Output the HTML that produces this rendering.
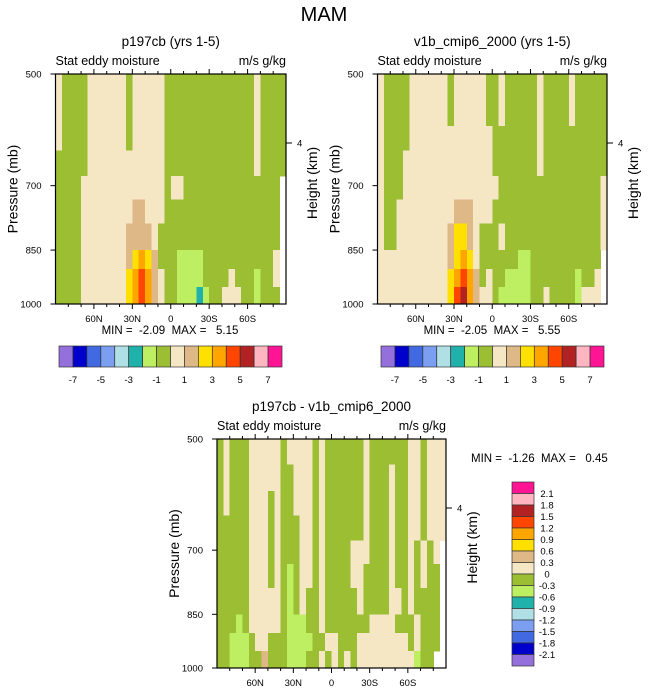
<!DOCTYPE html>
<html><head><meta charset="utf-8">
<style>
html,body{margin:0;padding:0;background:#fff;}
svg{display:block;font-family:"Liberation Sans",Arial,sans-serif;}
</style></head>
<body>
<svg id="chart" width="648" height="693" viewBox="0 0 648 693" xmlns="http://www.w3.org/2000/svg">
<text x="324" y="21" font-size="20" text-anchor="middle">MAM</text>
</svg>
<script>
// ---------- data ----------
const latCenters = [87.5,82.5,77.5,72.5,67.5,62.5,57.5,52.5,47.5,42.5,37.5,32.5,27.5,22.5,17.5,12.5,7.5,2.5,-2.5,-7.5,-12.5,-17.5,-22.5,-27.5,-32.5,-37.5,-42.5,-47.5,-52.5,-57.5,-62.5,-67.5,-72.5,-77.5,-82.5,-87.5];
const pressureEdges = [500,540,585,630,680,730,785,850,900,950,1000];
const xTickLats = [60,30,0,-30,-60];
const xTickLabels = ["60N","30N","0","30S","60S"];
const yTickPressures = [500,700,850,1000];
const yTickLabels = ["500","700","850","1000"];
const topLevels = [-7,-6,-5,-4,-3,-2,-1,0,1,2,3,4,5,6,7];
const topLevelLabels = ["-7","-5","-3","-1","1","3","5","7"];
const diffLevels = [-2.1,-1.8,-1.5,-1.2,-0.9,-0.6,-0.3,0,0.3,0.6,0.9,1.2,1.5,1.8,2.1];
const diffLevelLabels = ["-2.1","-1.8","-1.5","-1.2","-0.9","-0.6","-0.3","0","0.3","0.6","0.9","1.2","1.5","1.8","2.1"];
const colors = ["#9370DB","#0000CD","#4169E1","#7B9EF0","#B0E0E6","#20B2AA","#BEEE62","#9BBE33","#F5E6C4","#DEB887","#FFE000","#FFA500","#FF4500","#B22222","#FFB6C1","#FF1493"];

// panel 1: p197cb (rows top 500mb -> bottom 1000mb)
const p197cb = [
[.5,-.5,-.5,-.5,-.5,.5,.5,.5,.5,.5,.5,-.5,.5,.5,.5,.5,.5,-.5,-.5,-.5,-.5,-.5,-.5,-.5,-.5,-.5,-.5,-.5,-.5,-.5,-.5,.5,-.5,-.5,-.5,-.5],
[.5,-.5,-.5,-.5,-.5,.5,.5,.5,.5,.5,.5,-.5,.5,.5,.5,.5,.5,-.5,-.5,-.5,-.5,-.5,-.5,-.5,-.5,-.5,-.5,-.5,-.5,-.5,-.5,.5,-.5,-.5,-.5,-.5],
[.5,-.5,-.5,-.5,-.5,.5,.5,.5,.5,.5,.5,-.5,.5,.5,.5,.5,.5,-.5,-.5,-.5,-.5,-.5,-.5,-.5,-.5,-.5,-.5,-.5,-.5,-.5,-.5,.5,-.5,-.5,-.5,-.5],
[-.5,-.5,-.5,-.5,-.5,.5,.5,.5,.5,.5,.5,.5,.5,.5,.5,.5,.5,-.5,-.5,-.5,-.5,-.5,-.5,-.5,-.5,-.5,-.5,-.5,-.5,-.5,-.5,.5,-.5,-.5,-.5,-.5],
[-.5,-.5,-.5,-.5,.5,.5,.5,.5,.5,.5,.5,.5,.5,.5,.5,.5,.5,-.5,.5,.5,-.5,-.5,-.5,-.5,-.5,-.5,-.5,-.5,-.5,-.5,-.5,-.5,-.5,-.5,-.5,null],
[-.5,-.5,-.5,-.5,.5,.5,.5,.5,.5,.5,.5,.5,1.5,1.5,.5,.5,.5,-.5,-.5,-.5,-.5,-.5,-.5,-.5,-.5,-.5,-.5,-.5,-.5,-.5,-.5,-.5,-.5,-.5,-.5,null],
[-.5,-.5,-.5,-.5,.5,.5,.5,.5,.5,.5,.5,1.5,1.5,1.5,1.5,.5,-.5,-.5,-.5,-.5,-.5,-.5,-.5,-.5,-.5,-.5,-.5,-.5,-.5,-.5,-.5,-.5,-.5,-.5,-.5,null],
[-.5,-.5,-.5,-.5,.5,.5,.5,.5,.5,.5,.5,1.5,2.5,3.5,2.5,1.5,-.5,-.5,-.5,-1.5,-1.5,-1.5,-1.5,-.5,-.5,-.5,-.5,-.5,-.5,-.5,-.5,-.5,-.5,-.5,.5,null],
[-.5,-.5,-.5,-.5,.5,.5,.5,.5,.5,.5,.5,2.5,3.5,4.5,3.5,1.5,.5,-.5,-.5,-1.5,-1.5,-1.5,-1.5,-.5,-.5,-.5,-.5,.5,-.5,-.5,-.5,-1.5,-.5,-.5,.5,null],
[-.5,-.5,-.5,-.5,.5,.5,.5,.5,.5,.5,.5,2.5,3.5,4.5,3.5,1.5,.5,-.5,-.5,-1.5,-1.5,-1.5,-2.05,-1.5,-.5,-.5,.5,.5,.5,-.5,-.5,-1.5,-.5,-.5,-.5,null]
];
// panel 2: v1b_cmip6_2000
const v1bCmip6 = [
[.5,-.5,-.5,-.5,-.5,.5,.5,.5,.5,.5,.5,-.5,.5,.5,.5,.5,.5,-.5,-.5,.5,-.5,-.5,-.5,-.5,-.5,.5,-.5,-.5,-.5,-.5,.5,-.5,-.5,-.5,-.5,-.5],
[.5,-.5,-.5,-.5,-.5,.5,.5,.5,.5,.5,.5,-.5,.5,.5,.5,.5,.5,-.5,-.5,.5,-.5,-.5,-.5,-.5,-.5,.5,-.5,-.5,-.5,-.5,.5,-.5,-.5,-.5,-.5,-.5],
[.5,-.5,-.5,-.5,-.5,.5,.5,.5,.5,.5,.5,.5,.5,.5,.5,.5,.5,.5,-.5,-.5,-.5,-.5,-.5,-.5,-.5,.5,-.5,-.5,-.5,-.5,-.5,-.5,-.5,-.5,-.5,-.5],
[.5,-.5,-.5,-.5,.5,.5,.5,.5,.5,.5,.5,.5,.5,.5,.5,.5,.5,.5,-.5,-.5,-.5,-.5,-.5,-.5,-.5,.5,-.5,-.5,-.5,-.5,-.5,-.5,-.5,-.5,-.5,-.5],
[.5,-.5,-.5,-.5,.5,.5,.5,.5,.5,.5,.5,.5,.5,.5,.5,.5,.5,.5,.5,-.5,-.5,-.5,-.5,-.5,-.5,-.5,-.5,-.5,-.5,-.5,-.5,-.5,-.5,-.5,-.5,.5],
[.5,-.5,-.5,.5,.5,.5,.5,.5,.5,.5,.5,.5,1.5,1.5,1.5,.5,.5,.5,-.5,-.5,-.5,-.5,-.5,-.5,-.5,-.5,-.5,-.5,-.5,-.5,-.5,-.5,-.5,-.5,-.5,.5],
[.5,-.5,-.5,.5,.5,.5,.5,.5,.5,.5,.5,1.5,2.5,2.5,1.5,.5,-.5,-.5,-.5,.5,-.5,-.5,-.5,-.5,-.5,-.5,-.5,-.5,-.5,-.5,-.5,-.5,-.5,-.5,-.5,.5],
[.5,.5,.5,.5,.5,.5,.5,.5,.5,.5,.5,1.5,2.5,3.5,2.5,.5,-.5,-.5,-.5,-.5,-.5,-.5,-1.5,-1.5,-.5,-.5,-.5,-.5,-.5,-.5,-.5,-.5,-.5,-.5,-.5,null],
[.5,.5,.5,.5,.5,.5,.5,.5,.5,.5,.5,2.5,3.5,4.5,3.5,1.5,-.5,.5,-.5,-.5,-1.5,-1.5,-1.5,-1.5,-.5,-.5,-.5,-.5,-.5,-.5,-.5,-1.5,-.5,-.5,.5,null],
[.5,.5,.5,.5,.5,.5,.5,.5,.5,.5,.5,2.5,4.5,5.3,3.5,1.5,.5,.5,-.5,-1.5,-1.5,-1.5,-1.5,-1.5,-.5,-.5,.5,-.5,-.5,-.5,-.5,-1.5,.5,.5,.5,null]
];
// panel 3: difference
const diffField = [
[-.15,.15,-.15,-.15,-.15,.15,.15,.15,.15,.15,-.15,.15,.15,.15,.15,-.15,.15,-.15,-.15,-.15,-.15,-.15,-.15,.15,-.15,-.15,-.15,-.15,-.15,-.15,.15,.15,-.15,.15,.15,.15],
[-.15,.15,-.15,-.15,-.15,.15,.15,.15,.15,.15,-.15,-.15,.15,.15,.15,-.15,.15,-.15,-.15,-.15,-.15,-.15,-.15,.15,-.15,-.15,-.15,.15,-.15,-.15,.15,.15,-.15,.15,.15,.15],
[-.15,.15,-.15,-.15,-.15,.15,.15,.15,-.15,.15,-.15,-.15,.15,.15,.15,-.15,.15,-.15,-.15,-.15,-.15,-.15,-.15,.15,-.15,-.15,-.15,.15,-.15,-.15,.15,.15,-.15,.15,.15,.15],
[-.15,-.15,-.15,-.15,-.15,.15,.15,.15,-.15,.15,-.15,-.15,-.15,.15,.15,-.15,.15,-.15,-.15,-.15,-.15,-.15,-.15,.15,-.15,-.15,-.15,.15,-.15,-.15,.15,.15,-.15,.15,.15,.15],
[-.15,-.15,-.15,-.15,-.15,.15,.15,.15,-.15,.15,-.15,-.15,-.15,.15,.15,-.15,.15,-.15,-.15,-.15,-.15,.15,.15,.15,-.15,-.15,-.15,.15,-.15,-.15,.15,-.15,.15,-.15,.15,null],
[-.15,-.15,-.15,-.15,-.15,.15,.15,.15,-.15,.15,-.15,-.45,-.15,.15,.15,-.15,.15,-.15,-.15,-.15,-.15,.15,.15,-.15,-.15,-.15,-.15,.15,-.15,-.15,.15,-.15,.15,-.15,-.15,null],
[-.15,-.15,-.15,-.15,-.15,.15,.15,.15,.15,.15,-.15,-.45,-.15,.15,-.15,-.15,.15,-.15,-.15,-.15,-.15,-.15,.15,-.15,-.15,-.15,-.15,.15,.15,-.15,.15,-.15,-.15,-.15,-.15,null],
[-.15,-.15,-.15,-.45,-.15,.15,.15,.15,.15,.15,-.15,-.45,-.45,-.45,-.15,-.15,.15,-.15,-.15,-.15,-.15,-.15,-.15,-.15,.15,.15,.15,.15,-.15,-.15,-.15,.15,-.15,-.15,-.15,null],
[-.15,-.15,-.45,-.45,-.45,-.15,.15,.15,-.15,-.15,-.15,-.45,-.45,-.45,-.45,-.15,-.15,.15,.15,-.15,-.15,-.15,.15,.15,.15,.15,.15,.15,.15,.15,-.15,.15,-.15,-.15,-.15,null],
[-.15,-.15,-.45,-.45,-.45,-.15,-.15,.45,-.15,-.15,-.15,-.45,-.45,-.45,-.15,-.15,.15,-.15,.15,-.15,.15,-.15,.15,.15,.15,.15,.15,.15,.15,.15,.15,-.45,-.15,-.15,null,null]
];

// ---------- drawing ----------
const NS = "http://www.w3.org/2000/svg";
const svg = document.getElementById("chart");
function mk(tag, attrs, parent) {
  const e = document.createElementNS(NS, tag);
  for (const k in attrs) e.setAttribute(k, attrs[k]);
  (parent || svg).appendChild(e);
  return e;
}
function txt(str, attrs, parent) { const t = mk("text", attrs, parent); t.textContent = str; return t; }
function colorIndex(v, levels) { let i = 0; while (i < levels.length && v >= levels[i]) i++; return i; }

function drawPanel(o) {
  const g = mk("g", {});
  
  
  const xs = lat => o.x0 + (90 - lat) / 180 * (o.x1 - o.x0);
  const ys = p => o.y0 + Math.log(p / 500) / Math.log(2) * (o.y1 - o.y0);
  const cells = mk("g", { "shape-rendering": "crispEdges" }, g);
  
  
  o.grid.forEach((row, r) => {
    row.forEach((v, c) => {
      if (v === null) return;
      const xa = xs(latCenters[c] + 2.5), xb = xs(latCenters[c] - 2.5);
      const ya = ys(pressureEdges[r]), yb = ys(pressureEdges[r + 1]);
      const rc = mk("rect", { x: xa, y: ya, width: xb - xa + 0.6, height: yb - ya + 0.6, fill: colors[colorIndex(v, o.levels)] }, cells);
      
      
    });
  });
  const fr = mk("rect", { x: o.x0, y: o.y0, width: o.x1 - o.x0, height: o.y1 - o.y0, fill: "none", stroke: "#000", "stroke-width": 1.2 }, g);
  
  
  // lat ticks every 10 deg
  for (let lat = 80; lat >= -80; lat -= 10) {
    const major = lat % 30 === 0;
    const L = major ? 5 : 3, x = xs(lat);
    mk("line", { x1: x, x2: x, y1: o.y0, y2: o.y0 - L, stroke: "#000", "stroke-width": 1 }, g);
    mk("line", { x1: x, x2: x, y1: o.y1, y2: o.y1 + L, stroke: "#000", "stroke-width": 1 }, g);
  }
  xTickLats.forEach((lat, i) => {
    const t = txt(xTickLabels[i], { x: xs(lat), y: o.y1 + 18, "font-size": 9.5, "text-anchor": "middle" }, g);
    
    
  });
  yTickPressures.forEach((p, i) => {
    const y = ys(p);
    mk("line", { x1: o.x0, x2: o.x0 - 5, y1: y, y2: y, stroke: "#000", "stroke-width": 1 }, g);
    const t = txt(yTickLabels[i], { x: o.x0 - 14, y: y + 3.5, "font-size": 9.5, "text-anchor": "end" }, g);
    
    
  });
  const hy = o.y0 + 69;
  mk("line", { x1: o.x1, x2: o.x1 + 6, y1: hy, y2: hy, stroke: "#000", "stroke-width": 1 }, g);
  const h4 = txt("4", { x: o.x1 + 11, y: hy + 3.5, "font-size": 9.5 }, g);
  
  
  const cx = (o.x0 + o.x1) / 2;
  const tt = txt(o.title, { x: cx, y: o.y0 - 28, "font-size": 13.5, "text-anchor": "middle" }, g);
  
  
  const ls = txt("Stat eddy moisture", { x: o.x0, y: o.y0 - 9, "font-size": 12.5 }, g);
  
  
  const us = txt("m/s g/kg", { x: o.x1, y: o.y0 - 9, "font-size": 12.5, "text-anchor": "end" }, g);
  
  
  const ym = (o.y0 + o.y1) / 2;
  const pl = txt("Pressure (mb)", { x: 0, y: 0, "font-size": 14, "text-anchor": "middle", transform: `translate(${o.x0 - 38},${ym}) rotate(-90)` }, g);
  
  
  const hl = txt("Height (km)", { x: 0, y: 0, "font-size": 14, "text-anchor": "middle", transform: `translate(${o.x1 + 31},${ym - 6}) rotate(-90)` }, g);
  
  
  const mm = txt(o.minmax, { x: o.mmx, y: o.mmy, "font-size": 11.5, "text-anchor": o.mmAnchor, "xml:space": "preserve" }, g);
  
  
  mm.style.whiteSpace = "pre";
}

function hColorbar(x0, y0, w, h, name) {
  const g = mk("g", {});
  
  
  const bw = w / colors.length;
  colors.forEach((c, i) => {
    const r = mk("rect", { x: x0 + i * bw, y: y0, width: bw, height: h, fill: c, stroke: "#333", "stroke-width": 0.7 }, g);
    
    
  });
  topLevelLabels.forEach((lab, i) => {
    const k = topLevels.indexOf(Number(lab));
    const t = txt(lab, { x: x0 + (k + 1) * bw, y: y0 + h + 16, "font-size": 9.5, "text-anchor": "middle" }, g);
    
    
  });
}

drawPanel({ name: "panel-p197cb", grid: p197cb, levels: topLevels, x0: 55.5, x1: 286, y0: 74, y1: 304,
  title: "p197cb (yrs 1-5)", minmax: "MIN =  -2.09  MAX =   5.15", mmx: 170, mmy: 334, mmAnchor: "middle" });
drawPanel({ name: "panel-v1b-cmip6-2000", grid: v1bCmip6, levels: topLevels, x0: 377.5, x1: 607, y0: 74, y1: 304,
  title: "v1b_cmip6_2000 (yrs 1-5)", minmax: "MIN =  -2.05  MAX =   5.55", mmx: 492, mmy: 334, mmAnchor: "middle" });
drawPanel({ name: "panel-difference", grid: diffField, levels: diffLevels, x0: 217, x1: 446, y0: 439, y1: 668,
  title: "p197cb - v1b_cmip6_2000", minmax: "MIN =  -1.26  MAX =   0.45", mmx: 471, mmy: 462, mmAnchor: "start" });
hColorbar(59, 346, 223, 21, "colorbar-left");
hColorbar(381, 346, 223, 21, "colorbar-right");

// vertical colorbar for difference
(function () {
  const g = mk("g", {});
  
  
  const x0 = 512, y0 = 482, w = 22, h = 184, bh = h / colors.length;
  colors.slice().reverse().forEach((c, i) => {
    const r = mk("rect", { x: x0, y: y0 + i * bh, width: w, height: bh, fill: c, stroke: "#333", "stroke-width": 0.7 }, g);
    
    
  });
  diffLevelLabels.slice().reverse().forEach((lab, i) => {
    const t = txt(lab, { x: 547, y: y0 + (i + 1) * bh + 3.5, "font-size": 9.5, "text-anchor": "middle" }, g);
    
    
  });
})();
</script>
</body></html>
